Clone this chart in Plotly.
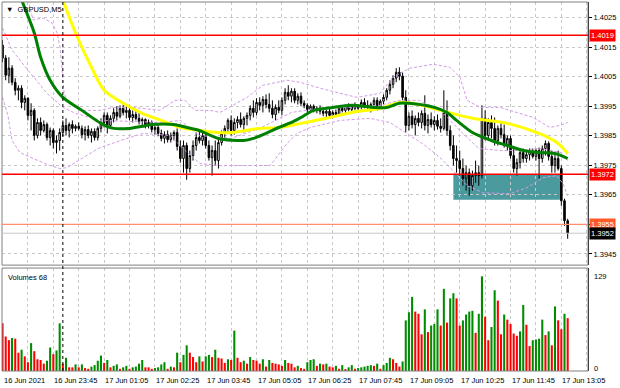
import pandas as pd
import plotly.graph_objects as go

# ---------------- data ----------------
start_time = "2021-06-16 22:25"
n_bars = 179

opens = [
1.40157,1.40113,1.40055,1.40079,1.40031,1.40004,1.40011,1.39963,1.39977,1.39919,
1.39936,1.39851,1.39895,1.39868,1.39888,1.39844,1.39868,1.39827,1.39834,1.39861,
1.39885,1.39868,1.39888,1.39875,1.39882,1.39875,1.39854,1.39871,1.39851,1.39865,
1.39844,1.39875,1.39895,1.39919,1.39885,1.39909,1.39929,1.39916,1.39943,1.39929,
1.39936,1.39912,1.39922,1.39909,1.39899,1.39905,1.39885,1.39895,1.39871,1.39878,
1.39858,1.39841,1.39854,1.39837,1.39851,1.39861,1.39814,1.39773,1.39817,1.39739,
1.39783,1.39817,1.39844,1.39834,1.39851,1.39817,1.39776,1.39800,1.39766,1.39827,
1.39858,1.39875,1.39902,1.39868,1.39895,1.39905,1.39888,1.39909,1.39919,1.39943,
1.39929,1.39963,1.39953,1.39973,1.39956,1.39943,1.39922,1.39946,1.39936,1.39970,
1.39997,1.39984,1.40001,1.39970,1.39984,1.39960,1.39953,1.39939,1.39950,1.39936,
1.39943,1.39933,1.39926,1.39933,1.39919,1.39929,1.39922,1.39943,1.39936,1.39950,
1.39939,1.39953,1.39943,1.39950,1.39963,1.39953,1.39946,1.39956,1.39970,1.39950,
1.39967,1.39980,1.40004,1.40024,1.40045,1.40065,1.40052,1.39980,1.39885,1.39916,
1.39888,1.39909,1.39895,1.39926,1.39885,1.39905,1.39888,1.39902,1.39882,1.39875,
1.39929,1.39868,1.39817,1.39773,1.39766,1.39739,1.39705,1.39725,1.39681,1.39715,
1.39725,1.39715,1.39909,1.39851,1.39895,1.39875,1.39834,1.39875,1.39854,1.39817,
1.39841,1.39783,1.39739,1.39759,1.39793,1.39773,1.39786,1.39797,1.39780,1.39800,
1.39773,1.39807,1.39824,1.39780,1.39749,1.39773,1.39739,1.39630,1.39562]

highs = [
1.40174,1.40123,1.40116,1.40089,1.40045,1.40021,1.40021,1.39987,1.39980,1.39960,
1.39943,1.39909,1.39912,1.39902,1.39895,1.39878,1.39875,1.39851,1.39875,1.39902,
1.39909,1.39895,1.39902,1.39888,1.39895,1.39885,1.39882,1.39885,1.39875,1.39875,
1.39882,1.39909,1.39929,1.39929,1.39919,1.39943,1.39950,1.39953,1.39956,1.39950,
1.39953,1.39936,1.39936,1.39929,1.39912,1.39909,1.39905,1.39902,1.39885,1.39888,
1.39871,1.39865,1.39868,1.39861,1.39868,1.39875,1.39834,1.39834,1.39827,1.39800,
1.39834,1.39861,1.39868,1.39861,1.39868,1.39834,1.39817,1.39834,1.39841,1.39868,
1.39885,1.39909,1.39919,1.39909,1.39916,1.39929,1.39916,1.39929,1.39953,1.39970,
1.39977,1.39980,1.39984,1.39990,1.39994,1.39970,1.39956,1.39970,1.39980,1.40011,
1.40021,1.40011,1.40011,1.39994,1.39997,1.39970,1.39960,1.39956,1.39956,1.39950,
1.39953,1.39946,1.39939,1.39943,1.39936,1.39939,1.39950,1.39953,1.39956,1.39960,
1.39956,1.39963,1.39956,1.39973,1.39977,1.39970,1.39963,1.39980,1.39980,1.39973,
1.39990,1.40011,1.40038,1.40055,1.40079,1.40082,1.40065,1.40004,1.39929,1.39936,
1.39919,1.39929,1.39936,1.39987,1.39922,1.39929,1.39916,1.39922,1.39909,1.40004,
1.39970,1.39885,1.39851,1.39817,1.39800,1.39773,1.39749,1.39739,1.39732,1.39766,
1.39749,1.39953,1.39936,1.39909,1.39919,1.39912,1.39885,1.39895,1.39888,1.39851,
1.39851,1.39810,1.39773,1.39807,1.39807,1.39800,1.39807,1.39807,1.39807,1.39810,
1.39817,1.39834,1.39831,1.39800,1.39793,1.39800,1.39749,1.39637,1.39569]

lows = [
1.40099,1.40038,1.40028,1.40021,1.39987,1.39970,1.39943,1.39936,1.39902,1.39868,
1.39834,1.39841,1.39851,1.39861,1.39834,1.39817,1.39807,1.39790,1.39800,1.39848,
1.39851,1.39844,1.39858,1.39865,1.39868,1.39841,1.39834,1.39841,1.39827,1.39834,
1.39834,1.39861,1.39878,1.39858,1.39878,1.39895,1.39902,1.39909,1.39919,1.39909,
1.39902,1.39895,1.39902,1.39888,1.39882,1.39875,1.39875,1.39861,1.39854,1.39848,
1.39831,1.39824,1.39827,1.39827,1.39834,1.39800,1.39759,1.39725,1.39701,1.39725,
1.39766,1.39800,1.39824,1.39817,1.39807,1.39766,1.39715,1.39749,1.39739,1.39817,
1.39834,1.39861,1.39851,1.39854,1.39875,1.39878,1.39861,1.39885,1.39902,1.39912,
1.39919,1.39936,1.39929,1.39943,1.39929,1.39909,1.39902,1.39926,1.39919,1.39956,
1.39970,1.39963,1.39960,1.39956,1.39950,1.39943,1.39929,1.39929,1.39929,1.39926,
1.39922,1.39916,1.39912,1.39909,1.39909,1.39916,1.39916,1.39929,1.39926,1.39933,
1.39929,1.39936,1.39929,1.39939,1.39943,1.39936,1.39929,1.39943,1.39936,1.39943,
1.39956,1.39970,1.39990,1.40011,1.40031,1.40038,1.39970,1.39861,1.39868,1.39875,
1.39851,1.39882,1.39875,1.39868,1.39858,1.39878,1.39868,1.39871,1.39861,1.39868,
1.39851,1.39800,1.39749,1.39725,1.39715,1.39681,1.39664,1.39647,1.39664,1.39691,
1.39681,1.39705,1.39834,1.39834,1.39841,1.39817,1.39817,1.39841,1.39810,1.39800,
1.39773,1.39725,1.39715,1.39739,1.39759,1.39759,1.39766,1.39773,1.39766,1.39705,
1.39759,1.39783,1.39766,1.39725,1.39725,1.39732,1.39613,1.39545,1.39501]

closes = [
1.40113,1.40055,1.40079,1.40031,1.40004,1.40011,1.39963,1.39977,1.39919,1.39936,
1.39851,1.39895,1.39868,1.39888,1.39844,1.39868,1.39827,1.39834,1.39861,1.39885,
1.39868,1.39888,1.39875,1.39882,1.39875,1.39854,1.39871,1.39851,1.39865,1.39844,
1.39875,1.39895,1.39919,1.39885,1.39909,1.39929,1.39916,1.39943,1.39929,1.39936,
1.39912,1.39922,1.39909,1.39899,1.39905,1.39885,1.39895,1.39871,1.39878,1.39858,
1.39841,1.39854,1.39837,1.39851,1.39861,1.39814,1.39773,1.39817,1.39739,1.39783,
1.39817,1.39844,1.39834,1.39851,1.39817,1.39776,1.39800,1.39766,1.39827,1.39858,
1.39875,1.39902,1.39868,1.39895,1.39905,1.39888,1.39909,1.39919,1.39943,1.39929,
1.39963,1.39953,1.39973,1.39956,1.39943,1.39922,1.39946,1.39936,1.39970,1.39997,
1.39984,1.40001,1.39970,1.39984,1.39960,1.39953,1.39939,1.39950,1.39936,1.39943,
1.39933,1.39926,1.39933,1.39919,1.39929,1.39922,1.39943,1.39936,1.39950,1.39939,
1.39953,1.39943,1.39950,1.39963,1.39953,1.39946,1.39956,1.39970,1.39950,1.39967,
1.39980,1.40004,1.40024,1.40045,1.40065,1.40052,1.39980,1.39885,1.39916,1.39888,
1.39909,1.39895,1.39926,1.39885,1.39905,1.39888,1.39902,1.39882,1.39875,1.39929,
1.39868,1.39817,1.39773,1.39766,1.39739,1.39705,1.39725,1.39681,1.39715,1.39725,
1.39715,1.39909,1.39851,1.39895,1.39875,1.39834,1.39875,1.39854,1.39817,1.39841,
1.39783,1.39739,1.39759,1.39793,1.39773,1.39786,1.39797,1.39780,1.39800,1.39773,
1.39807,1.39824,1.39780,1.39749,1.39773,1.39739,1.39630,1.39562,1.39520]

volumes = [
65,47,42,45,44,25,29,20,12,38, 27,16,15,10,14,32,23,28,65,10,
18,5,5,9,5,9,4,3,6,8, 14,21,11,15,5,7,9,3,5,7,
3,5,6,10,15,5,5,3,4,5, 9,12,3,6,5,25,12,22,35,25,
19,12,20,13,20,22,19,29,18,17, 11,16,15,55,18,12,14,10,19,15,
14,10,16,6,15,11,10,9,7,15, 11,10,5,7,4,3,12,15,16,7,
10,9,10,6,5,7,3,8,2,5, 8,3,4,5,6,7,8,7,10,3,
8,11,18,16,11,6,13,69,80,101, 81,78,50,84,53,62,64,84,62,112,
66,99,106,99,62,69,77,81,82,52, 78,129,74,42,60,110,96,50,77,70,
64,51,48,54,90,63,34,42,43,44, 70,49,54,35,88,69,57,78,72]

# moving averages (bar position, value)
ma_fast_idx = [6,10,12,15,19,25,31,35,40,44,47,54,58,62,68,76,79,83,87,91,
               94,98,104,110,117,121,125,128,136,140,143,148,154,159,164,169,174,178]
ma_fast_val = [1.40310,1.40198,1.40116,1.40038,1.39980,1.39936,1.39892,1.39875,1.39875,1.39882,
               1.39888,1.39888,1.39878,1.39868,1.39841,1.39834,1.39841,1.39858,1.39878,1.39895,
               1.39912,1.39936,1.39946,1.39953,1.39946,1.39946,1.39960,1.39960,1.39946,1.39929,
               1.39902,1.39861,1.39834,1.39817,1.39800,1.39793,1.39790,1.39773]
ma_slow_idx = [19,23,28,32,38,44,50,56,62,68,72,81,87,94,102,110,119,125,131,138,
               148,159,169,175,178]
ma_slow_val = [1.40310,1.40198,1.40082,1.40004,1.39960,1.39926,1.39902,1.39878,1.39868,1.39861,
               1.39861,1.39875,1.39878,1.39892,1.39909,1.39929,1.39943,1.39963,1.39956,1.39936,
               1.39909,1.39892,1.39858,1.39824,1.39790]
# Bollinger bands (bar position, value)
band_up_idx = [7.7,9.6,12.8,15.6,17.2,18.1,18.7,19.4,20.3,25.4,30.7,34.8,41.1,49.6,54.3,57.5,
               60.6,65.4,68.5,77,82,89.6,93.7,100,106.3,111.7,118.9,123,128.3,135.6,140.9,
               144.1,146.3,150.4,156.7,162,167.1,172.4,175.6,178]
band_up_val = [1.40327,1.40242,1.40249,1.40232,1.40198,1.40150,1.40082,1.39994,1.39970,1.39936,
               1.39936,1.39946,1.39946,1.39936,1.39970,1.39970,1.39936,1.39936,1.39929,1.39980,
               1.40021,1.40038,1.40031,1.40011,1.39994,1.39980,1.39994,1.40048,1.40079,1.40092,
               1.40082,1.40048,1.39970,1.39946,1.39946,1.39929,1.39912,1.39878,1.39885,1.39895]
band_mid_idx = [0,3,8,14,19,23,31,40,50,56,62,72,81,91,100,109,119,125,131,138,144,150,157,
                163,169,176,178]
band_mid_val = [1.40215,1.40140,1.40072,1.39994,1.39946,1.39926,1.39902,1.39899,1.39895,1.39902,
                1.39851,1.39841,1.39875,1.39929,1.39943,1.39946,1.39953,1.39970,1.39970,1.39936,
                1.39868,1.39807,1.39800,1.39800,1.39807,1.39793,1.39766]
band_lo_idx = [0,1.7,3,5.5,9.6,15,18.1,20.3,25.4,30.7,39.2,44.3,52.8,57.5,62.2,68.5,78,84.3,
               89.6,92.8,96.9,106.3,115.7,122,128.3,133.1,137.8,141.9,146.3,151.4,159.8,165.2,
               170.2,174.6,176.5,178]
band_lo_val = [1.39980,1.39919,1.39834,1.39793,1.39773,1.39749,1.39739,1.39742,1.39776,1.39810,
               1.39841,1.39858,1.39851,1.39800,1.39756,1.39749,1.39749,1.39749,1.39824,1.39858,
               1.39878,1.39902,1.39909,1.39895,1.39851,1.39817,1.39776,1.39732,1.39681,1.39657,
               1.39654,1.39674,1.39708,1.39715,1.39688,1.39647]

price_ticks = [1.3945,1.3955,1.3965,1.3975,1.3985,1.3995,1.4005,1.4015,1.4025]
price_ticktext = ["1.3945","","1.3965","1.3975","1.3985","1.3995","1.4005","1.4015","1.4025"]
resistance = 1.4019
support = 1.3972
target = 1.3955
bid = 1.3952
zone_start, zone_end = "2021-06-17 10:15", "2021-06-17 13:03"
zone_low, zone_high = 1.39633, 1.3972
day_break = "2021-06-17 00:00"
time_labels = ["16 Jun 2021","16 Jun 23:45","17 Jun 01:05","17 Jun 02:25","17 Jun 03:45",
               "17 Jun 05:05","17 Jun 06:25","17 Jun 07:45","17 Jun 09:05","17 Jun 10:25",
               "17 Jun 11:45","17 Jun 13:05"]
time_label_idx = [0,16,32,48,64,80,96,112,128,144,160,176]
vol_max_label = 129

# ---------------- figure ----------------
t0 = pd.Timestamp(start_time)
times = pd.date_range(start_time, periods=n_bars, freq="5min")
def at(pos_list):
    return [t0 + pd.Timedelta(minutes=5 * p) for p in pos_list]

FONT = "Liberation Sans, Arial, sans-serif"
GREEN = "#008c00"
vol_colors = ["#ff0000"] + [GREEN if volumes[i] > volumes[i-1] else "#ff0000" for i in range(1, n_bars)]

fig = go.Figure()
fig.add_trace(go.Candlestick(
    x=times, open=opens, high=highs, low=lows, close=closes,
    increasing=dict(line=dict(color="black", width=1), fillcolor="white"),
    decreasing=dict(line=dict(color="black", width=1), fillcolor="black"),
    whiskerwidth=0, showlegend=False, hoverinfo="skip", xaxis="x", yaxis="y"))

band_style = dict(color="#d29be6", width=1, dash="3px,2px")
for bi, bv in [(band_up_idx, band_up_val), (band_mid_idx, band_mid_val), (band_lo_idx, band_lo_val)]:
    fig.add_trace(go.Scatter(x=at(bi), y=bv, mode="lines", line=band_style,
                             showlegend=False, hoverinfo="skip"))
fig.add_trace(go.Scatter(x=at(ma_slow_idx), y=ma_slow_val, mode="lines",
                         line=dict(color="#ffff00", width=3, shape="spline", smoothing=0.8),
                         showlegend=False, hoverinfo="skip"))
fig.add_trace(go.Scatter(x=at(ma_fast_idx), y=ma_fast_val, mode="lines",
                         line=dict(color="#008000", width=3, shape="spline", smoothing=0.8),
                         showlegend=False, hoverinfo="skip"))

fig.add_trace(go.Bar(x=times, y=volumes, marker=dict(color=vol_colors, line=dict(width=0)),
                     showlegend=False, hoverinfo="skip", xaxis="x", yaxis="y2"))

x_lo = t0 - pd.Timedelta(seconds=50)
x_hi = t0 + pd.Timedelta(minutes=922)

MAIN_DOM = [0.287, 1.0]
VOL_DOM = [0.0, 0.279]
grid = dict(showgrid=True, gridcolor="#c8c8c8", griddash="3px,3px", gridwidth=1)
fig.update_layout(
    width=620, height=388, margin=dict(l=2, r=32, t=2, b=17),
    paper_bgcolor="white", plot_bgcolor="white", bargap=0.35,
    font=dict(family=FONT, size=8, color="black"),
    xaxis=dict(type="date", range=[x_lo, x_hi], anchor="y2", rangeslider=dict(visible=False),
               tickmode="linear", tick0=t0, dtick=40*60*1000,
               showticklabels=False, ticks="", zeroline=False, showline=False, **grid),
    yaxis=dict(domain=MAIN_DOM, range=[1.39412, 1.40303], side="right",
               tickmode="array", tickvals=price_ticks, ticktext=price_ticktext,
               ticks="outside", ticklen=3, tickcolor="black", showline=True, linecolor="black",
               linewidth=1, tickfont=dict(size=7.5), zeroline=False, **grid),
    yaxis2=dict(domain=VOL_DOM, range=[0, 140.3], side="right", showticklabels=False,
                ticks="", showline=True, linecolor="black", linewidth=1, showgrid=False,
                zeroline=False),
)

shapes = []
shapes.append(dict(type="rect", xref="paper", yref="paper", x0=0, x1=1, y0=MAIN_DOM[0], y1=MAIN_DOM[1],
                   line=dict(color="#808080", width=1), fillcolor="rgba(0,0,0,0)", layer="above"))
shapes.append(dict(type="rect", xref="paper", yref="paper", x0=0, x1=1, y0=VOL_DOM[0], y1=VOL_DOM[1],
                   line=dict(color="#808080", width=1), fillcolor="rgba(0,0,0,0)", layer="above"))
shapes.append(dict(type="rect", xref="x", yref="y", x0=zone_start, x1=zone_end, y0=zone_low,
                   y1=zone_high, fillcolor="#4a9a9e", line=dict(width=0), layer="below"))
for lvl, col, w in [(resistance, "#ff0000", 1.5), (support, "#ff0000", 1.5),
                    (target, "#ff8f6e", 1.2), (bid, "#c8c8c8", 1)]:
    shapes.append(dict(type="line", xref="paper", yref="y", x0=0, x1=1, y0=lvl, y1=lvl,
                       line=dict(color=col, width=w), layer="above"))
shapes.append(dict(type="line", xref="x", yref="paper", x0=day_break, x1=day_break, y0=0, y1=1,
                   line=dict(color="black", width=1, dash="dot"), layer="above"))
fig.update_layout(shapes=shapes)

ann = []
ann.append(dict(text="▼  GBPUSD,M5", xref="paper", yref="paper", x=0, y=1, xanchor="left",
                yanchor="top", xshift=2, yshift=-1, showarrow=False, font=dict(size=7.5)))
ann.append(dict(text="Volumes 68", xref="paper", yref="paper", x=0, y=VOL_DOM[1], xanchor="left",
                yanchor="top", xshift=4, yshift=-3, showarrow=False, font=dict(size=7.5)))
for lvl, bg, fg in [(resistance, "#ff0000", "white"), (support, "#ff0000", "white"),
                    (target, "#ff5a28", "white"), (bid, "#000000", "white")]:
    ann.append(dict(text=f"{lvl:.4f}", xref="paper", yref="y", x=1, y=lvl, xanchor="left",
                    yanchor="middle", xshift=1, showarrow=False, bgcolor=bg, borderpad=1,
                    font=dict(size=7.5, color=fg)))
ann.append(dict(text=str(vol_max_label), xref="paper", yref="y2", x=1, y=vol_max_label,
                xanchor="left", yanchor="middle", xshift=4, showarrow=False, font=dict(size=7.5)))
ann.append(dict(text="0", xref="paper", yref="y2", x=1, y=3.5,
                xanchor="left", yanchor="middle", xshift=4, showarrow=False, font=dict(size=7.5)))
for lab, i in zip(time_labels, time_label_idx):
    ann.append(dict(text=lab, xref="x", yref="paper", x=times[i], y=0, xanchor="left",
                    yanchor="top", yshift=-3, xshift=-1, showarrow=False, font=dict(size=7.5)))
fig.update_layout(annotations=ann)

fig.write_html("out.html", config={"displayModeBar": False},
               post_script="document.body.style.margin='0px';")
